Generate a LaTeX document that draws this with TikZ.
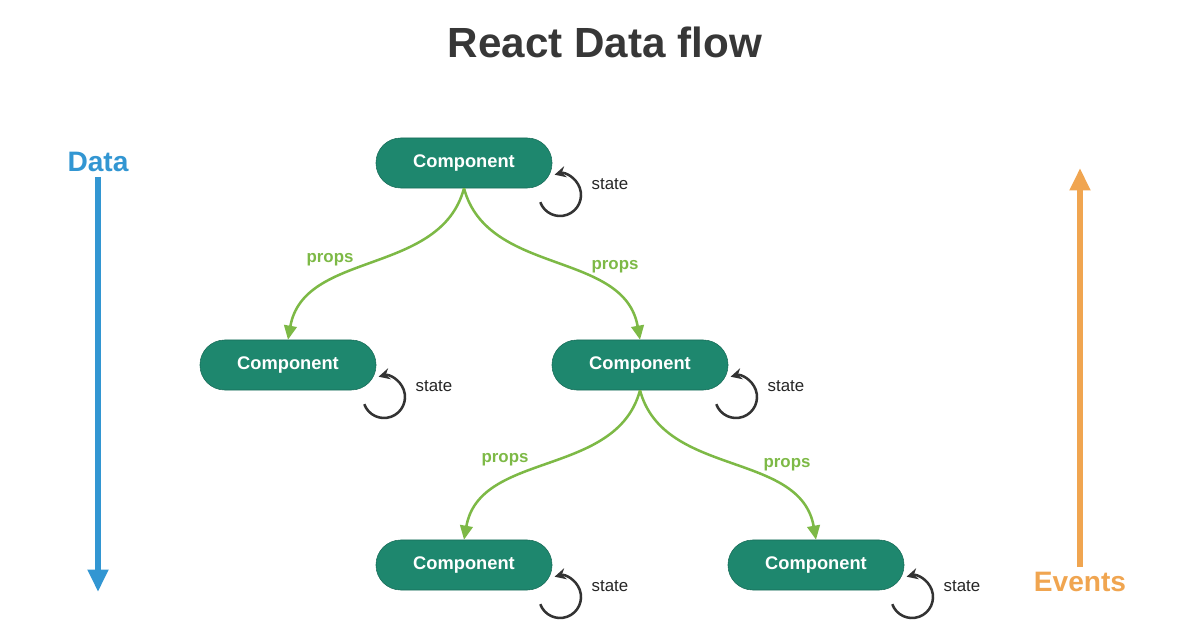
\documentclass[tikz,border=0pt]{standalone}
\usepackage{fontspec}
\setmainfont{Liberation Sans}
\usetikzlibrary{arrows.meta}
\definecolor{compgreen}{RGB}{30,135,110}
\definecolor{propgreen}{RGB}{125,185,70}
\definecolor{datablue}{RGB}{50,150,210}
\definecolor{eventorange}{RGB}{240,165,80}
\definecolor{titlegray}{RGB}{55,55,55}

\begin{document}
\begin{tikzpicture}[x=0.025cm,y=-0.025cm]

\tikzstyle{comp}=[draw=compgreen!80!black,fill=compgreen,rounded corners=0.62cm,minimum width=4.4cm,minimum height=1.25cm,text=white,font=\bfseries\fontsize{13}{15}\selectfont]
\tikzstyle{props}=[text=propgreen,font=\bfseries\fontsize{12}{14}\selectfont]
\tikzstyle{flow}=[propgreen,line width=1.8pt,-{Triangle[length=10pt,width=9pt]}]
\tikzstyle{statetxt}=[font=\fontsize{12}{14}\selectfont,text=black!85]

\useasboundingbox (0,0) rectangle (1196,628);

%% Title
\node[text=titlegray,font=\bfseries\fontsize{30}{34}\selectfont] (title) at (605,42) {React Data flow};

%% Components
\node[comp] (c0) at (464,163) {Component};
\node[comp] (c1) at (288,365) {Component};
\node[comp] (c2) at (640,365) {Component};
\node[comp] (c3) at (464,565) {Component};
\node[comp] (c4) at (816,565) {Component};

%% State loops
\foreach \c in {c0,c1,c2,c3,c4} {
    \draw[black!80,line width=1.8pt,-{Stealth[length=8pt,width=8pt]}]
        ([shift={(96,32)}]\c.center) ++(-200:21) arc (-200:-465:21);
    \node[statetxt] at ([shift={(146,21)}]\c.center) {state};
}

%% Props connectors
\draw[flow] (c0.south) to[out=-75,in=100] (c2.north);
\draw[flow] (c0.south) to[out=-105,in=80] (c1.north);
\draw[flow] (c2.south) to[out=-105,in=80] (c3.north);
\draw[flow] (c2.south) to[out=-75,in=100] (c4.north);
\node[props] at (330,260) {props};
\node[props] at (615,267) {props};
\node[props] at (505,460) {props};
\node[props] at (787,465) {props};

%% Data and events
\node[text=datablue,font=\bfseries\fontsize{20}{24}\selectfont] (data) at (98,162) {Data};
\coordinate (dataend) at (98,592);
\draw[datablue,line width=4pt,-{Triangle[length=16pt,width=14pt]}] (data.south) -- (dataend);
\node[text=eventorange,font=\bfseries\fontsize{20}{24}\selectfont] (events) at (1080,582) {Events};
\coordinate (eventend) at (1080,168);
\draw[eventorange,line width=4pt,-{Triangle[length=16pt,width=14pt]}] (events.north) -- (eventend);

\end{tikzpicture}
\end{document}
